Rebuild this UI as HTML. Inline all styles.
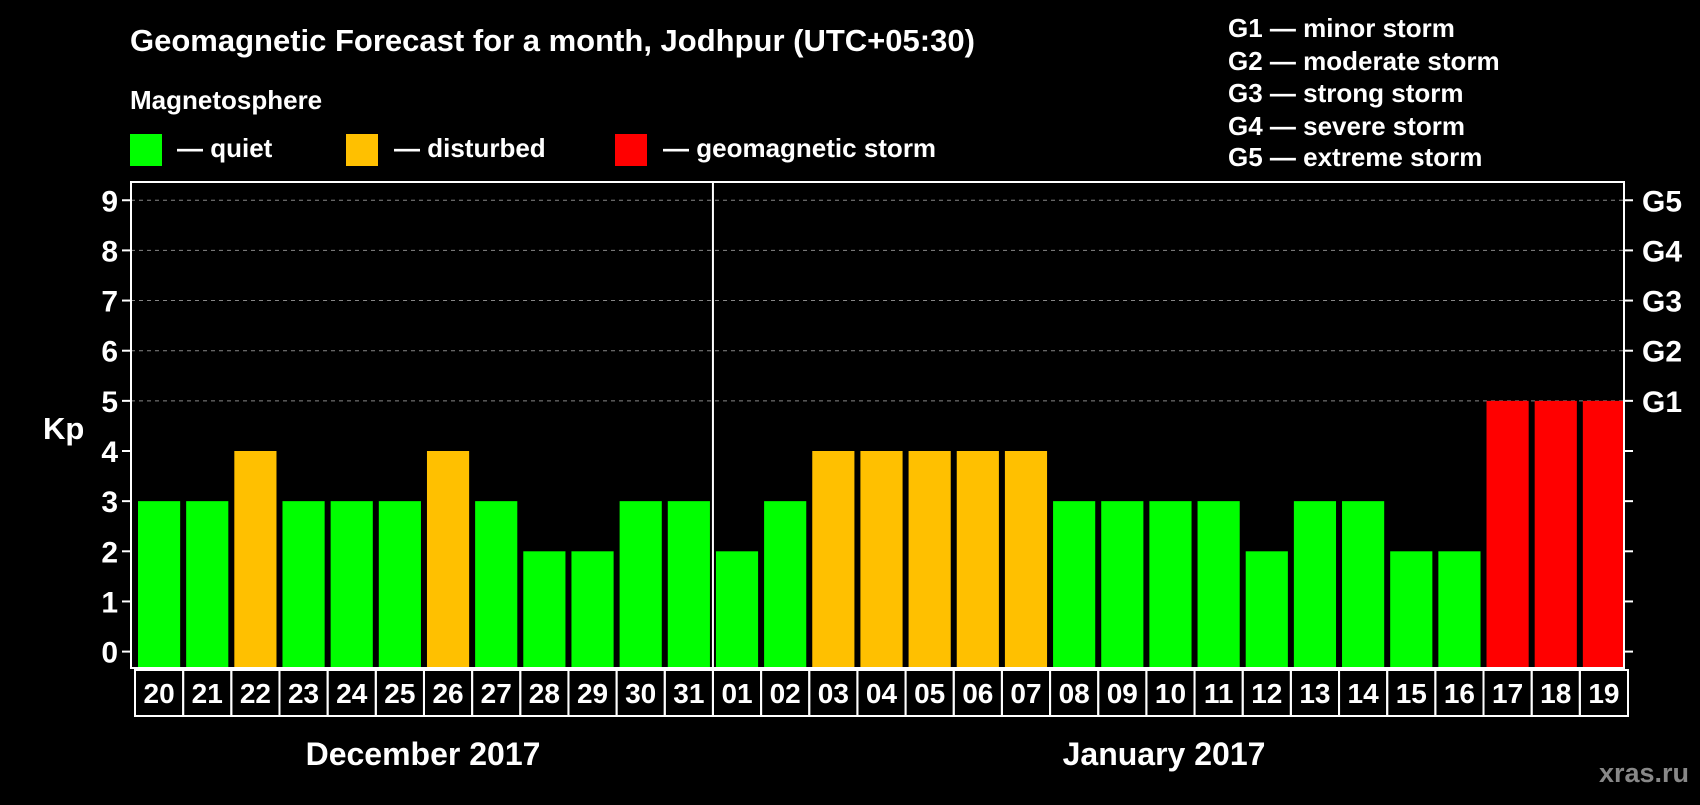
<!DOCTYPE html>
<html><head><meta charset="utf-8"><style>
body{margin:0;background:#000;width:1700px;height:800px;overflow:hidden}
svg text{font-family:"Liberation Sans",Arial,sans-serif;font-weight:bold;fill:#fff}
</style></head><body>
<svg id="chart" width="1700" height="800">
<text x="130" y="51" font-size="31">Geomagnetic Forecast for a month, Jodhpur (UTC+05:30)</text>
<text x="130" y="109" font-size="26">Magnetosphere</text>
<rect x="130" y="134" width="32" height="32" fill="#00ff00"/>
<text x="177" y="157" font-size="26">— quiet</text>
<rect x="346" y="134" width="32" height="32" fill="#ffc000"/>
<text x="394" y="157" font-size="26">— disturbed</text>
<rect x="615" y="134" width="32" height="32" fill="#ff0000"/>
<text x="663" y="157" font-size="26">— geomagnetic storm</text>
<g font-size="26">
<text x="1228" y="37">G1 — minor storm</text>
<text x="1228" y="70">G2 — moderate storm</text>
<text x="1228" y="102">G3 — strong storm</text>
<text x="1228" y="135">G4 — severe storm</text>
<text x="1228" y="166">G5 — extreme storm</text>
</g>
<text x="43" y="439" font-size="31">Kp</text>
<text x="423" y="765" font-size="32" text-anchor="middle">December 2017</text>
<text x="1164" y="765" font-size="32" text-anchor="middle">January 2017</text>
<text x="1689" y="782" font-size="27" text-anchor="end" style="fill:#888">xras.ru</text>
<g id="plot"></g>
</svg>
<script>
const days=["20","21","22","23","24","25","26","27","28","29","30","31","01","02","03","04","05","06","07","08","09","10","11","12","13","14","15","16","17","18","19"];
const kp=[3,3,4,3,3,3,4,3,2,2,3,3,2,3,4,4,4,4,4,3,3,3,3,2,3,3,2,2,5,5,5];
const yTicks=[0,1,2,3,4,5,6,7,8,9];
const gLabels=["G1","G2","G3","G4","G5"];
const L=131,R=1624,T=182,B=668,Y0=651.6,U=50.15;
const NS='http://www.w3.org/2000/svg';
const g=document.getElementById('plot');
function y(v){return Y0-v*U}
const step=(R-L)/days.length;
function x(i){return L+i*step}
function mk(t,a){const e=document.createElementNS(NS,t);for(const k in a)e.setAttribute(k,a[k]);g.appendChild(e);return e}
yTicks.forEach(v=>{
 if(v>=5){const ln=mk('line',{x1:L,x2:R,y1:y(v),y2:y(v),stroke:'#888','stroke-dasharray':'4,4'});
 
 }
 const t1=mk('line',{x1:L-9,x2:L,y1:y(v),y2:y(v),stroke:'#fff','stroke-width':2});
 
 
 const t2=mk('line',{x1:R,x2:R+9,y1:y(v),y2:y(v),stroke:'#fff','stroke-width':2});
 
 
 const tx=mk('text',{x:L-13,y:y(v)+11,'font-size':30,'text-anchor':'end'});tx.textContent=v;
 
 
});
gLabels.forEach((s,i)=>{const tx=mk('text',{x:R+18,y:y(5+i)+11,'font-size':30});tx.textContent=s;
 
 });
kp.forEach((v,i)=>{
 const c=v>=5?'#ff0000':v>=4?'#ffc000':'#00ff00';
 const r=mk('rect',{x:x(i)+7,y:y(v),width:step-6,height:B-1-y(v),fill:c});
 
 
 const bx=mk('rect',{x:x(i)+4,y:B+2,width:step,height:46,fill:'none',stroke:'#fff','stroke-width':2});
 
 
 const tx=mk('text',{x:x(i)+4+step/2,y:B+35,'font-size':28,'text-anchor':'middle'});tx.textContent=days[i];
 
 
});
const fr=mk('rect',{x:L,y:T,width:R-L,height:B-T,fill:'none',stroke:'#fff','stroke-width':2});


const dv=mk('line',{x1:x(12)+4,x2:x(12)+4,y1:T,y2:B,stroke:'#fff','stroke-width':2});


</script>
</body></html>
